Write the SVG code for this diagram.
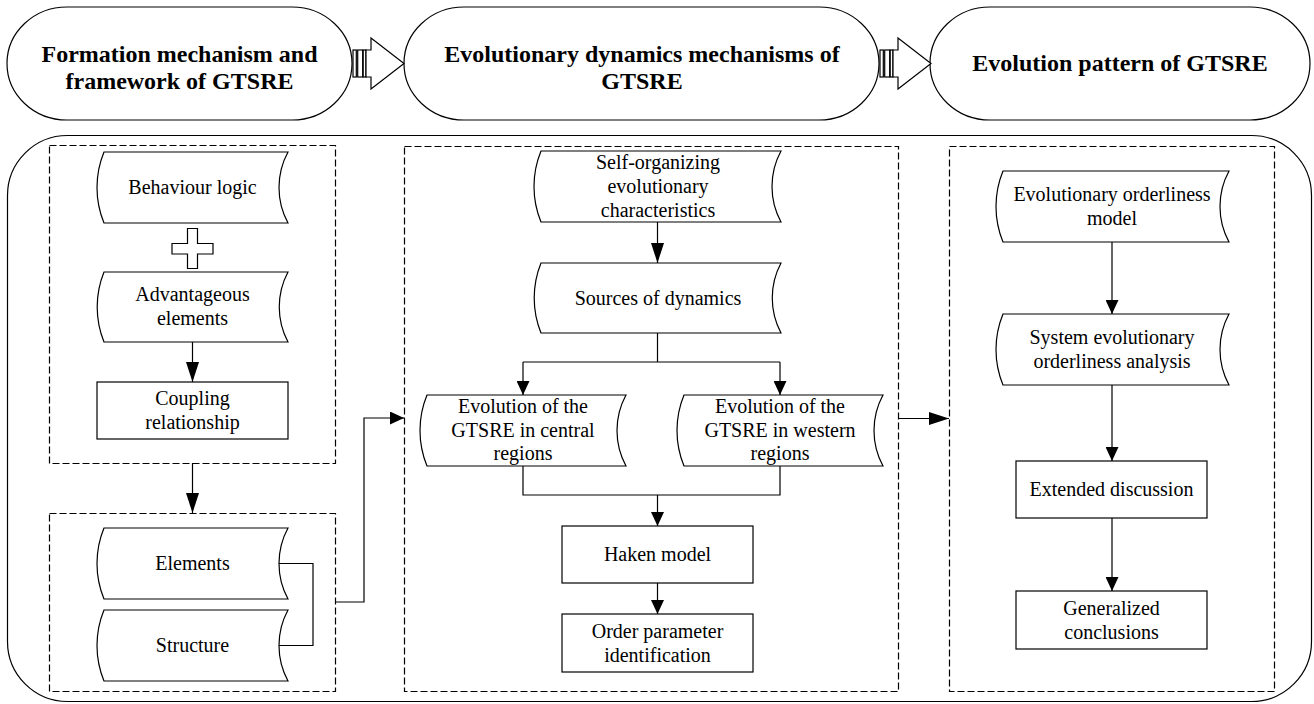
<svg xmlns="http://www.w3.org/2000/svg" width="1314" height="704" viewBox="0 0 1314 704">
<style>
.o{fill:#fff;stroke:#000;stroke-width:1.2}
.d{fill:none;stroke:#000;stroke-width:1.2;stroke-dasharray:7 3}
.c{fill:none;stroke:#000;stroke-width:1.2}
.t{font-family:"Liberation Serif","Times New Roman",serif;font-size:20px;fill:#000;text-anchor:middle}
.h{font-family:"Liberation Serif","Times New Roman",serif;font-size:24px;font-weight:bold;fill:#000;text-anchor:middle}
</style>
<defs>
<marker id="al" viewBox="0 0 20 13" refX="20" refY="6.5" markerWidth="20" markerHeight="13" markerUnits="userSpaceOnUse" orient="auto"><path d="M0,0 L20,6.5 L0,13 Z" fill="#000"/></marker>
<marker id="as" viewBox="0 0 14 13" refX="14" refY="6.5" markerWidth="14" markerHeight="13" markerUnits="userSpaceOnUse" orient="auto"><path d="M0,0 L14,6.5 L0,13 Z" fill="#000"/></marker>
<g id="barrow">
<rect x="353" y="50" width="3.3" height="27" class="o"/>
<rect x="357.7" y="50" width="5" height="27" class="o"/>
<rect x="363.2" y="50" width="2.8" height="27" class="o"/>
<path d="M366,50 H371 V38 L404,63.5 L371,89 V77 H366 Z" class="o"/>
</g>
</defs>

<g id="top1"><rect x="7" y="7" width="345" height="113" rx="60" ry="56.5" class="o"/>
<text class="h" x="179.5" y="61.5">Formation mechanism and</text><text class="h" x="179.5" y="89">framework of GTSRE</text></g>
<g id="top2"><rect x="404" y="7" width="475" height="113" rx="60" ry="56.5" class="o"/>
<text class="h" x="642" y="61.5">Evolutionary dynamics mechanisms of</text><text class="h" x="642" y="89">GTSRE</text></g>
<g id="top3"><rect x="930" y="7" width="380" height="113" rx="60" ry="56.5" class="o"/>
<text class="h" x="1120" y="71">Evolution pattern of GTSRE</text></g>
<g id="toparrows"><use href="#barrow"/><use href="#barrow" transform="translate(527,0)"/></g>

<g id="frame"><rect x="7.5" y="135.5" width="1304" height="566" rx="60" ry="60" class="c"/></g>
<g id="box-left1"><rect x="49.5" y="145.5" width="286" height="318" class="d"/></g>
<g id="box-left2"><rect x="49.5" y="513.5" width="286" height="178" class="d"/></g>
<g id="box-mid"><rect x="404.5" y="146.5" width="494" height="545" class="d"/></g>
<g id="box-right"><rect x="949.5" y="146.5" width="325" height="545" class="d"/></g>

<g id="behaviour"><path class="o" d="M104,152 H288 A74.5 74.5 0 0 0 288,223 H104 A93.5 93.5 0 0 1 104,152 Z"/><text class="t" x="192.5" y="194">Behaviour logic</text></g>
<g id="plus"><path class="o" d="M187.5,228.5 H197.5 V243.5 H213 V254 H197.5 V268.5 H187.5 V254 H172 V243.5 H187.5 Z"/></g>
<g id="advantageous"><path class="o" d="M104,272 H288 A74.5 74.5 0 0 0 288,342 H104 A93.5 93.5 0 0 1 104,272 Z"/><text class="t" x="192.5" y="301">Advantageous</text><text class="t" x="192.5" y="325">elements</text></g>
<g id="coupling"><rect class="o" x="97" y="382" width="191" height="57"/><text class="t" x="192.5" y="405">Coupling</text><text class="t" x="192.5" y="429">relationship</text></g>
<g id="elements"><path class="o" d="M104,528 H288 A74.5 74.5 0 0 0 288,599 H104 A93.5 93.5 0 0 1 104,528 Z"/><text class="t" x="192.5" y="570">Elements</text></g>
<g id="structure"><path class="o" d="M104,610 H288 A74.5 74.5 0 0 0 288,681 H104 A93.5 93.5 0 0 1 104,610 Z"/><text class="t" x="192.5" y="652">Structure</text></g>

<g id="selforg"><path class="o" d="M541,151 H781 A74.5 74.5 0 0 0 781,222 H541 A93.5 93.5 0 0 1 541,151 Z"/><text class="t" x="658" y="169">Self-organizing</text><text class="t" x="658" y="193">evolutionary</text><text class="t" x="658" y="217">characteristics</text></g>
<g id="sources"><path class="o" d="M541,263 H781 A74.5 74.5 0 0 0 781,333 H541 A93.5 93.5 0 0 1 541,263 Z"/><text class="t" x="658" y="304.5">Sources of dynamics</text></g>
<g id="central"><path class="o" d="M427,395 H626 A74.5 74.5 0 0 0 626,466 H427 A93.5 93.5 0 0 1 427,395 Z"/><text class="t" x="523" y="413">Evolution of the</text><text class="t" x="523" y="437">GTSRE in central</text><text class="t" x="523" y="460">regions</text></g>
<g id="western"><path class="o" d="M684,395 H883 A74.5 74.5 0 0 0 883,466 H684 A93.5 93.5 0 0 1 684,395 Z"/><text class="t" x="780" y="413">Evolution of the</text><text class="t" x="780" y="437">GTSRE in western</text><text class="t" x="780" y="460">regions</text></g>
<g id="haken"><rect class="o" x="562" y="526" width="191" height="57"/><text class="t" x="657.5" y="561">Haken model</text></g>
<g id="order"><rect class="o" x="562" y="614" width="191" height="58"/><text class="t" x="657.5" y="637.5">Order parameter</text><text class="t" x="657.5" y="661.5">identification</text></g>

<g id="ordmodel"><path class="o" d="M1003,171 H1229 A74.5 74.5 0 0 0 1229,242 H1003 A93.5 93.5 0 0 1 1003,171 Z"/><text class="t" x="1112" y="200.5">Evolutionary orderliness</text><text class="t" x="1112" y="224.5">model</text></g>
<g id="system"><path class="o" d="M1003,314 H1229 A74.5 74.5 0 0 0 1229,385 H1003 A93.5 93.5 0 0 1 1003,314 Z"/><text class="t" x="1112" y="343.5">System evolutionary</text><text class="t" x="1112" y="367.5">orderliness analysis</text></g>
<g id="extended"><rect class="o" x="1016" y="461" width="191" height="57"/><text class="t" x="1111.5" y="496">Extended discussion</text></g>
<g id="generalized"><rect class="o" x="1016" y="591" width="191" height="58"/><text class="t" x="1111.5" y="614.5">Generalized</text><text class="t" x="1111.5" y="638.5">conclusions</text></g>

<g id="connectors">
<line class="c" x1="192.5" y1="342" x2="192.5" y2="382" marker-end="url(#al)"/>
<line class="c" x1="192.5" y1="463" x2="192.5" y2="513" marker-end="url(#al)"/>
<polyline class="c" points="279,563.5 313,563.5 313,645.5 279,645.5"/>
<polyline class="c" points="335,602 364,602 364,418 404,418" marker-end="url(#as)"/>
<line class="c" x1="657.5" y1="222" x2="657.5" y2="263" marker-end="url(#al)"/>
<line class="c" x1="657.5" y1="333" x2="657.5" y2="362"/>
<line class="c" x1="523" y1="362" x2="780" y2="362"/>
<line class="c" x1="523" y1="362" x2="523" y2="395" marker-end="url(#as)"/>
<line class="c" x1="780" y1="362" x2="780" y2="395" marker-end="url(#as)"/>
<polyline class="c" points="523,466 523,495 780,495 780,466"/>
<line class="c" x1="657.5" y1="495" x2="657.5" y2="526" marker-end="url(#as)"/>
<line class="c" x1="657.5" y1="583" x2="657.5" y2="614" marker-end="url(#as)"/>
<line class="c" x1="898" y1="418.5" x2="949" y2="418.5" marker-end="url(#al)"/>
<line class="c" x1="1112" y1="242" x2="1112" y2="314" marker-end="url(#as)"/>
<line class="c" x1="1112" y1="385" x2="1112" y2="461" marker-end="url(#as)"/>
<line class="c" x1="1112" y1="518" x2="1112" y2="591" marker-end="url(#as)"/>
</g>
</svg>
